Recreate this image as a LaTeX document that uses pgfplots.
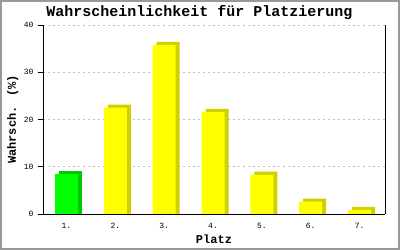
\documentclass[border=0pt]{standalone}
\usepackage{pgfplots}
\pgfplotsset{compat=1.18}
\usepackage{fontspec}
\setmainfont{Liberation Mono}
\definecolor{frontY}{RGB}{255,255,0}
\definecolor{sideY}{RGB}{208,208,0}
\definecolor{frontG}{RGB}{0,255,0}
\definecolor{sideG}{RGB}{0,200,0}
\definecolor{gridc}{RGB}{192,192,192}
\begin{document}
\begin{tikzpicture}[x=1pt,y=1pt]
\useasboundingbox (-43,-36) rectangle (357,214);
\fill[white] (-43,-36) rectangle (357,214);
\draw[gray!80, line width=2pt] (-42,-35) rectangle (356,213);
\begin{axis}[
  at={(0,0)}, anchor=origin,
  scale only axis, width=342pt, height=189pt,
  xmin=0.52, xmax=7.52, ymin=0, ymax=40,
  axis x line*=bottom, axis y line*=left,
  xtick={1,2,3,4,5,6,7},
  xticklabels={1.,2.,3.,4.,5.,6.,7.},
  x tick style={draw=none},
  ytick={0,10,20,30,40},
  tick align=outside, major tick length=5pt,
  y tick style={black, line width=0.9pt},
  ymajorgrids, grid style={gridc, dash pattern=on 2pt off 3pt, line width=0.8pt},
  axis line style={black, line width=0.9pt},
  tick label style={font=\fontsize{8}{9}\selectfont},
  yticklabel style={xshift=-1pt},
  xticklabel style={yshift=-1pt},
  /pgf/number format/assume math mode=true,
  ybar, bar width=23pt,
  clip=false,
]
% side/back faces
\addplot[fill=sideG, draw=none, bar shift=4pt] coordinates {(1,9.15)};
\addplot[fill=sideY, draw=none, bar shift=4pt] coordinates {(2,23.15) (3,36.45) (4,22.25) (5,8.95) (6,3.25) (7,1.5)};
% front faces
\addplot[fill=frontG, draw=none, bar shift=0pt] coordinates {(1,8.5)};
\addplot[fill=frontY, draw=none, bar shift=0pt] coordinates {(2,22.5) (3,35.8) (4,21.6) (5,8.3) (6,2.6) (7,0.85)};
\end{axis}
\draw[black, line width=0.9pt] (342,0) -- (342,189);
\draw[black, line width=0.9pt] (0,0) -- (342,0);
\node[font=\bfseries\fontsize{15}{16}\selectfont, anchor=base] at (156.5,198) {Wahrscheinlichkeit für Platzierung};
\node[font=\bfseries\fontsize{12}{13}\selectfont, anchor=base] at (171,-29) {Platz};
\node[font=\bfseries\fontsize{12}{13}\selectfont, rotate=90, anchor=base] at (-27,94.5) {Wahrsch. (\%)};
\end{tikzpicture}
\end{document}
